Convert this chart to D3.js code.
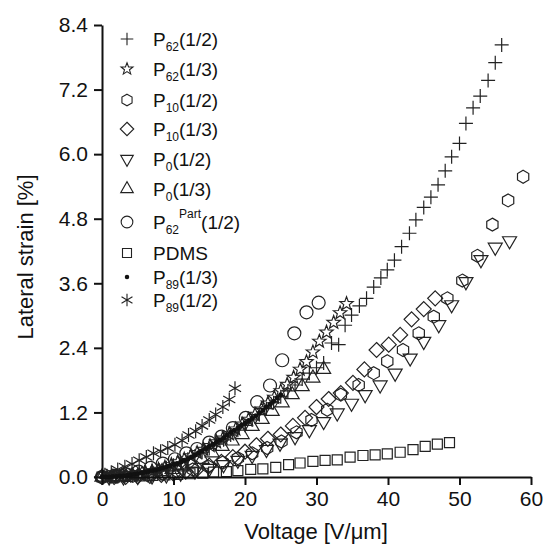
<!DOCTYPE html>
<html>
<head>
<meta charset="utf-8">
<script src="https://cdn.jsdelivr.net/npm/d3@7"></script>
<style>
  body { margin: 0; background: #fff; }
  svg { display: block; font-family: "Liberation Sans", Arial, sans-serif; }
  .axis path, .axis line { stroke: #111; stroke-width: 2; }
  .axis text { font-size: 21px; fill: #111; }
</style>
</head>
<body>
<svg id="chart" width="543" height="544"></svg>
<script>
// P62(1/2)  "+"
var p62h_v = [0,1,2,3,4,5,6,7,8,9,10,11,12,13,14,15,16,17,18,19,20,21,22,23,24,25,26,27,28,29,30,
  31.0,32.1,33.1,34.0,34.9,36.0,37.0,38.0,39.0,39.9,40.9,41.9,43.0,43.9,45.0,46.0,47.0,48.0,48.9,50.0,50.9,51.9,52.9,54.0,55.0,55.9];
var p62h_s = [0,0,0.01,0.02,0.03,0.05,0.07,0.10,0.13,0.17,0.22,0.27,0.33,0.39,0.46,0.53,0.61,0.69,0.78,0.87,0.96,1.06,1.16,1.27,1.38,1.49,1.60,1.71,1.82,1.93,2.03,
  2.12,2.49,2.46,2.82,3.01,3.18,3.32,3.53,3.70,3.85,4.03,4.28,4.53,4.78,5.01,5.20,5.43,5.69,5.95,6.20,6.57,6.86,7.08,7.37,7.70,8.03];

// P62(1/3)  star
var p62t_v = [0.7,1.6,2.5,3.4,4.3,5.2,6.1,7.0,7.9,8.8,9.7,10.6,11.5,12.4,13.3,14.2,15.1,16.0,16.9,17.8,18.7,19.6,20.5,21.4,22.3,23.2,24.1,25.0,25.9,26.8,27.7,28.6,29.5,30.4,31.4,32.4,33.3,34.2];
var p62t_s = [0,0,0.01,0.02,0.03,0.05,0.08,0.11,0.14,0.18,0.23,0.28,0.33,0.39,0.45,0.51,0.58,0.65,0.72,0.80,0.89,0.98,1.07,1.16,1.26,1.37,1.48,1.60,1.72,1.85,2.00,2.14,2.32,2.52,2.69,2.87,3.05,3.22];

// P10(1/2)  hexagon
var p10h_v = [0,2.1,4.3,6.4,8.5,10.6,12.7,14.8,16.9,19.0,21.0,23.1,25.1,27.2,29.3,31.5,33.4,35.9,38.0,39.9,42.1,44.3,46.4,48.3,50.4,52.5,54.6,56.8,58.9];
var p10h_s = [0,0.01,0.02,0.03,0.06,0.10,0.14,0.20,0.27,0.35,0.44,0.54,0.66,0.83,1.06,1.25,1.53,1.71,1.93,2.15,2.36,2.67,2.98,3.32,3.65,4.11,4.69,5.14,5.58];

// P10(1/3)  diamond
var p10t_v = [0,1.7,3.3,5.0,6.7,8.3,10.0,11.7,13.3,15.0,16.7,18.3,20.0,21.6,23.2,25.0,26.7,28.4,30.0,31.7,33.4,35.1,36.7,38.4,40.1,41.7,43.3,45.0,46.6];
var p10t_s = [0,0,0,0.01,0.02,0.04,0.06,0.10,0.15,0.21,0.28,0.37,0.47,0.59,0.71,0.79,0.95,1.10,1.30,1.45,1.56,1.75,2.00,2.36,2.46,2.64,2.93,3.12,3.32];

// P0(1/2)  down triangle
var p0h_v = [1,3,5,7,9,11,13,15,17,19,21,23.0,24.9,27.0,29.0,31.0,32.9,34.9,36.8,38.9,41.0,43.1,45.0,47.1,48.9,50.9,53.0,55.0,57.0];
var p0h_s = [0,0,0.01,0.02,0.04,0.07,0.11,0.16,0.23,0.31,0.40,0.51,0.63,0.75,0.88,1.03,1.19,1.37,1.53,1.71,1.93,2.21,2.52,2.83,3.20,3.63,4.04,4.27,4.39];

// P0(1/3)  up triangle
var p0t_v = [0,1.4,2.8,4.2,5.6,7.0,8.4,9.8,11.2,12.6,14.0,15.4,16.8,18.2,19.6,21.0,22.4,23.8,25.2,26.6,28.0,29.5,31.0];
var p0t_s = [0,0,0.01,0.02,0.04,0.07,0.10,0.14,0.19,0.25,0.33,0.45,0.57,0.67,0.79,0.94,1.07,1.22,1.38,1.53,1.68,1.84,2.00];

// P62Part(1/2)  circle
var p62p_v = [0,1.7,3.4,5.1,6.8,8.5,10.2,11.8,13.3,15.0,16.7,18.3,20.1,21.7,23.5,25.2,26.9,28.6,30.3];
var p62p_s = [0,0.02,0.05,0.10,0.17,0.25,0.33,0.44,0.52,0.64,0.75,0.91,1.10,1.39,1.70,2.17,2.67,3.06,3.24];

// PDMS  square
var pdms_v = [0,1.8,3.6,5.3,7.1,8.8,10.6,12.3,14.1,15.6,17.4,19.0,20.8,22.5,24.3,26.1,27.7,29.5,31.2,32.9,34.7,36.5,38.2,39.9,41.7,43.5,45.2,46.9,48.6];
var pdms_s = [0,0,0.01,0.02,0.03,0.04,0.05,0.06,0.07,0.09,0.10,0.12,0.14,0.15,0.18,0.23,0.26,0.29,0.31,0.32,0.37,0.40,0.41,0.43,0.46,0.51,0.57,0.61,0.64];

// P89(1/3)  small dot
var p89t_v = [0,0.5,1,1.5,2,2.5,3,3.5,4,4.5,5,5.5,6,6.5,7,7.5,8,8.5,9,9.5,10,10.5,11,11.5,12,12.5,13,13.5,14,14.5,15,15.5,16,16.5,17,17.5,18,18.5,19,19.5,20,20.5,21,21.5,22,22.5,23,23.5,24,24.5,25];
var p89t_s = [0,0,0,0.01,0.01,0.02,0.02,0.03,0.04,0.05,0.06,0.07,0.09,0.10,0.12,0.13,0.15,0.17,0.19,0.21,0.23,0.25,0.28,0.31,0.34,0.37,0.41,0.45,0.49,0.53,0.57,0.61,0.65,0.69,0.73,0.78,0.83,0.87,0.91,0.96,1.00,1.05,1.09,1.14,1.19,1.24,1.30,1.35,1.41,1.47,1.53];

// P89(1/2)  asterisk
var p89h_v = [0.4,1.3,2.2,3.2,4.2,5.2,6.2,7.2,8.2,9.2,10.2,11.2,12.1,13.1,14.0,15.0,15.9,16.9,17.8,18.6];
var p89h_s = [0.04,0.09,0.14,0.19,0.24,0.31,0.37,0.44,0.48,0.54,0.60,0.68,0.78,0.85,0.95,1.06,1.16,1.30,1.44,1.65];

var xTicks = [0,10,20,30,40,50,60];
var yTicks = [0,1.2,2.4,3.6,4.8,6.0,7.2,8.4];

var legendSub = ["62","62","10","10","0","0","62","","89","89"];
var legendSup = ["","","","","","","Part","","",""];
var legendBase = ["P","P","P","P","P","P","P","PDMS","P","P"];
var legendTail = ["(1/2)","(1/3)","(1/2)","(1/3)","(1/2)","(1/3)","(1/2)","","(1/3)","(1/2)"];
var legendShape = ["plus","star","hexagon","diamond","down","up","circle","square","dot","asterisk"];

var series = [
  { shape: "square", v: pdms_v, s: pdms_s },
  { shape: "down", v: p0h_v, s: p0h_s },
  { shape: "up", v: p0t_v, s: p0t_s },
  { shape: "diamond", v: p10t_v, s: p10t_s },
  { shape: "hexagon", v: p10h_v, s: p10h_s },
  { shape: "circle", v: p62p_v, s: p62p_s },
  { shape: "plus", v: p62h_v, s: p62h_s },
  { shape: "star", v: p62t_v, s: p62t_s },
  { shape: "asterisk", v: p89h_v, s: p89h_s },
  { shape: "dot", v: p89t_v, s: p89t_s }
];

function shapePath(type, k) {
  var r, p = d3.path(), i, a;
  switch (type) {
    case "plus":
      r = 7 * k;
      return "M" + (-r) + ",0H" + r + "M0," + (-r) + "V" + r;
    case "asterisk":
      r = 7 * k;
      var d = "";
      [90, 30, -30].forEach(function (deg) {
        var c = Math.cos(deg * Math.PI / 180) * r, s = Math.sin(deg * Math.PI / 180) * r;
        d += "M" + c + "," + s + "L" + (-c) + "," + (-s);
      });
      return d;
    case "star":
      r = 7 * k;
      for (i = 0; i < 10; i++) {
        var rr = i % 2 ? r * 0.42 : r;
        a = -Math.PI / 2 + i * Math.PI / 5;
        if (i) p.lineTo(rr * Math.cos(a), rr * Math.sin(a)); else p.moveTo(rr * Math.cos(a), rr * Math.sin(a));
      }
      p.closePath();
      return p.toString();
    case "hexagon":
      r = 6.5 * k;
      for (i = 0; i < 6; i++) {
        a = -Math.PI / 2 + i * Math.PI / 3;
        if (i) p.lineTo(r * Math.cos(a), r * Math.sin(a)); else p.moveTo(r * Math.cos(a), r * Math.sin(a));
      }
      p.closePath();
      return p.toString();
    case "diamond":
      r = 7.5 * k;
      return "M0," + (-r) + "L" + r + ",0L0," + r + "L" + (-r) + ",0Z";
    case "down":
      r = 7 * k;
      return "M" + (-r) + "," + (-0.577 * r) + "L" + r + "," + (-0.577 * r) + "L0," + (1.155 * r) + "Z";
    case "up":
      r = 7 * k;
      return "M" + (-r) + "," + (0.577 * r) + "L" + r + "," + (0.577 * r) + "L0," + (-1.155 * r) + "Z";
    case "circle":
      r = 6.5 * k;
      p.arc(0, 0, r, 0, 2 * Math.PI);
      p.closePath();
      return p.toString();
    case "square":
      r = 5 * k;
      return "M" + (-r) + "," + (-r) + "H" + r + "V" + r + "H" + (-r) + "Z";
    case "dot":
      r = 2.5 * k;
      p.arc(0, 0, r, 0, 2 * Math.PI);
      p.closePath();
      return p.toString();
  }
}

var svg = d3.select("#chart");

var x = d3.scaleLinear().domain([0, 60]).range([102, 531]);
var y = d3.scaleLinear().domain([0, 8.4]).range([477, 25]);

// points
series.forEach(function (ser) {
  var pts = ser.v.map(function (v, i) { return [v, ser.s[i]]; });
  svg.append("g").selectAll("path")
    .data(pts)
    .enter().append("path")
    .attr("transform", function (d) { return "translate(" + x(d[0]) + "," + y(d[1]) + ")"; })
    .attr("d", shapePath(ser.shape, 1))
    .attr("fill", ser.shape === "dot" ? "#111" : "none")
    .attr("stroke", ser.shape === "dot" ? "none" : "#222")
    .attr("stroke-width", 1.2);
});

// axes
svg.append("g")
  .attr("class", "axis")
  .attr("transform", "translate(0,477)")
  .call(d3.axisBottom(x).tickValues(xTicks).tickSize(8).tickSizeOuter(0).tickPadding(6).tickFormat(d3.format("d")))
  .call(function (g) { g.selectAll("text").attr("dy", "0.71em"); });

svg.append("g")
  .attr("class", "axis")
  .attr("transform", "translate(102,0)")
  .call(d3.axisLeft(y).tickValues(yTicks).tickSize(8).tickSizeOuter(0).tickPadding(6).tickFormat(d3.format(".1f")));

// axis titles
svg.append("text")
  .attr("x", 316)
  .attr("y", 539)
  .attr("text-anchor", "middle")
  .attr("font-size", 22)
  .attr("fill", "#111")
  .text("Voltage [V/\u03bcm]");

svg.append("text")
  .attr("transform", "translate(33,257) rotate(-90)")
  .attr("text-anchor", "middle")
  .attr("font-size", 22)
  .attr("fill", "#111")
  .text("Lateral strain [%]");

// legend
var legendY = [39, 69, 100, 129, 159, 189, 222, 253, 277, 300];
var lg = svg.append("g");
legendShape.forEach(function (sh, i) {
  lg.append("path")
    .attr("transform", "translate(127," + legendY[i] + ")")
    .attr("d", shapePath(sh, 0.9))
    .attr("fill", sh === "dot" ? "#111" : "none")
    .attr("stroke", sh === "dot" ? "none" : "#222")
    .attr("stroke-width", 1.1);
  var t = lg.append("text")
    .attr("x", 153)
    .attr("y", legendY[i] + 7)
    .attr("font-size", 19)
    .attr("fill", "#111");
  t.append("tspan").text(legendBase[i]);
  if (legendSub[i]) {
    t.append("tspan").attr("font-size", 12).attr("dy", 5).text(legendSub[i]);
  }
  if (legendSup[i]) {
    t.append("tspan").attr("font-size", 12).attr("dy", -16).text(legendSup[i]);
    t.append("tspan").attr("dy", 11).text(legendTail[i]);
  } else if (legendSub[i]) {
    t.append("tspan").attr("dy", -5).text(legendTail[i]);
  } else {
    t.append("tspan").text(legendTail[i]);
  }
});
</script>
</body>
</html>
